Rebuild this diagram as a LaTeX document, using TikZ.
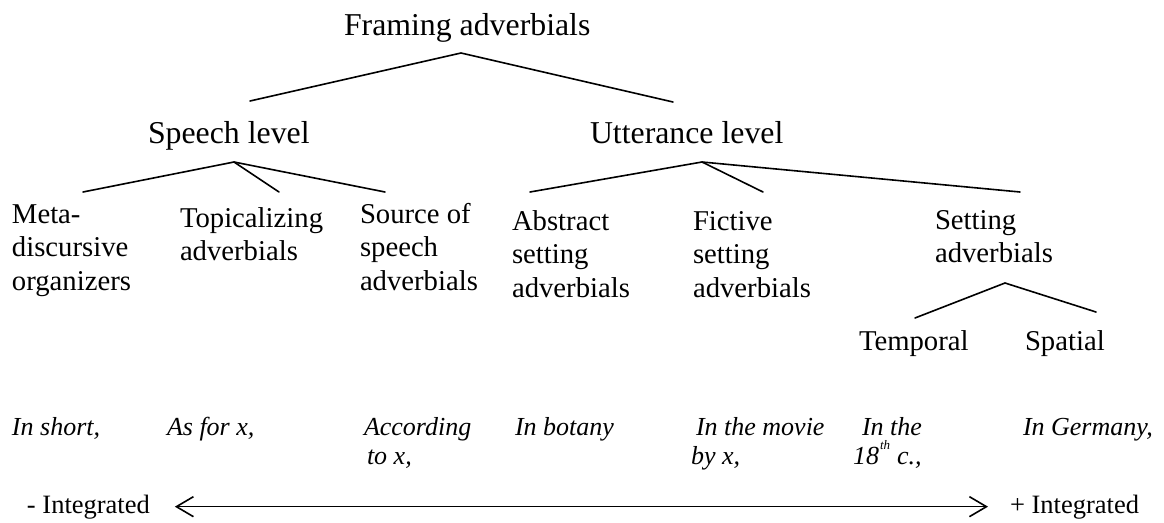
\documentclass[tikz,border=0pt]{standalone}
\usepackage{fontspec}
\setmainfont{Liberation Serif}
\usetikzlibrary{arrows.meta}
\begin{document}
\begin{tikzpicture}[x=1pt,y=-1pt,
  txt/.style={anchor=base west, inner sep=0pt, outer sep=0pt, align=left},
  lvl/.style={txt, font=\fontsize{31.8}{36}\selectfont},
  leaf/.style={txt, font=\fontsize{28.7}{33.5}\selectfont},
  ex/.style={txt, font=\fontsize{26}{29}\selectfont\itshape},
  pole/.style={txt, font=\fontsize{26.5}{30}\selectfont},
  branch/.style={line width=1.6pt, line cap=round},
  twoway/.style={line width=1.6pt,
    {Straight Barb[length=17pt,width=20pt]}-{Straight Barb[length=17pt,width=20pt]}}]
\useasboundingbox (0,0) rectangle (1164,522);

% level nodes
\node[lvl] (fa) at (344,35) {Framing adverbials};
\node[lvl] (sl) at (148,143) {Speech level};
\node[lvl] (ul) at (590,143) {Utterance level};

% leaf categories (anchor = baseline of the last line)
\node[leaf] (meta) at (12,290) {Meta-\\discursive\\organizers};
\node[leaf] (topic) at (180,260.5) {Topicalizing\\adverbials};
\node[leaf] (source) at (360,290) {Source of\\speech\\adverbials};
\node[leaf] (abstract) at (512,297) {Abstract\\setting\\adverbials};
\node[leaf] (fictive) at (693,297) {Fictive\\setting\\adverbials};
\node[leaf] (setting) at (935,262.5) {Setting\\adverbials};
\node[leaf] (temporal) at (859,350) {Temporal};
\node[leaf] (spatial) at (1025,350) {Spatial};

% examples
\node[ex] (e1) at (12,435) {In short,};
\node[ex] (e2) at (167,435) {As for x,};
\node[ex] (e3) at (364,464) {According\\\hspace*{3pt}to x,};
\node[ex] (e4) at (515,435) {In botany};
\node[ex] (e5) at (691,464) {\hspace*{5pt}In the movie\\by x,};
\node[ex] (e6) at (853,464) {\hspace*{9pt}In the\\18\hspace*{1pt}\raisebox{15pt}{\fontsize{13}{13}\selectfont th}\hspace*{7pt}c.,};
\node[ex] (e7) at (1023,435) {In Germany,};

% poles
\node[pole] (neg) at (27,513) {- Integrated};
\node[pole] (pos) at (1010,513) {+ Integrated};

% junctions and branch ends
\coordinate (fa-j) at (461,53);
\coordinate (sl-top) at (250,101);
\coordinate (ul-top) at (673,102);
\coordinate (sl-j) at (234,162);
\coordinate (meta-top) at (83,192);
\coordinate (topic-top) at (279,192);
\coordinate (source-top) at (385,192);
\coordinate (ul-j) at (702,162);
\coordinate (abstract-top) at (530,192);
\coordinate (fictive-top) at (763,192);
\coordinate (setting-top) at (1020,192);
\coordinate (set-j) at (1005,283);
\coordinate (temporal-top) at (915,318);
\coordinate (spatial-top) at (1096,312);

\draw[branch] (sl-top) -- (fa-j) -- (ul-top);
\draw[branch] (meta-top) -- (sl-j) -- (source-top);
\draw[branch] (sl-j) -- (topic-top);
\draw[branch] (abstract-top) -- (ul-j) -- (setting-top);
\draw[branch] (ul-j) -- (fictive-top);
\draw[branch] (temporal-top) -- (set-j) -- (spatial-top);

\draw[twoway, shorten <=25pt, shorten >=22pt] (neg.east) -- (pos.west);
\end{tikzpicture}
\end{document}
